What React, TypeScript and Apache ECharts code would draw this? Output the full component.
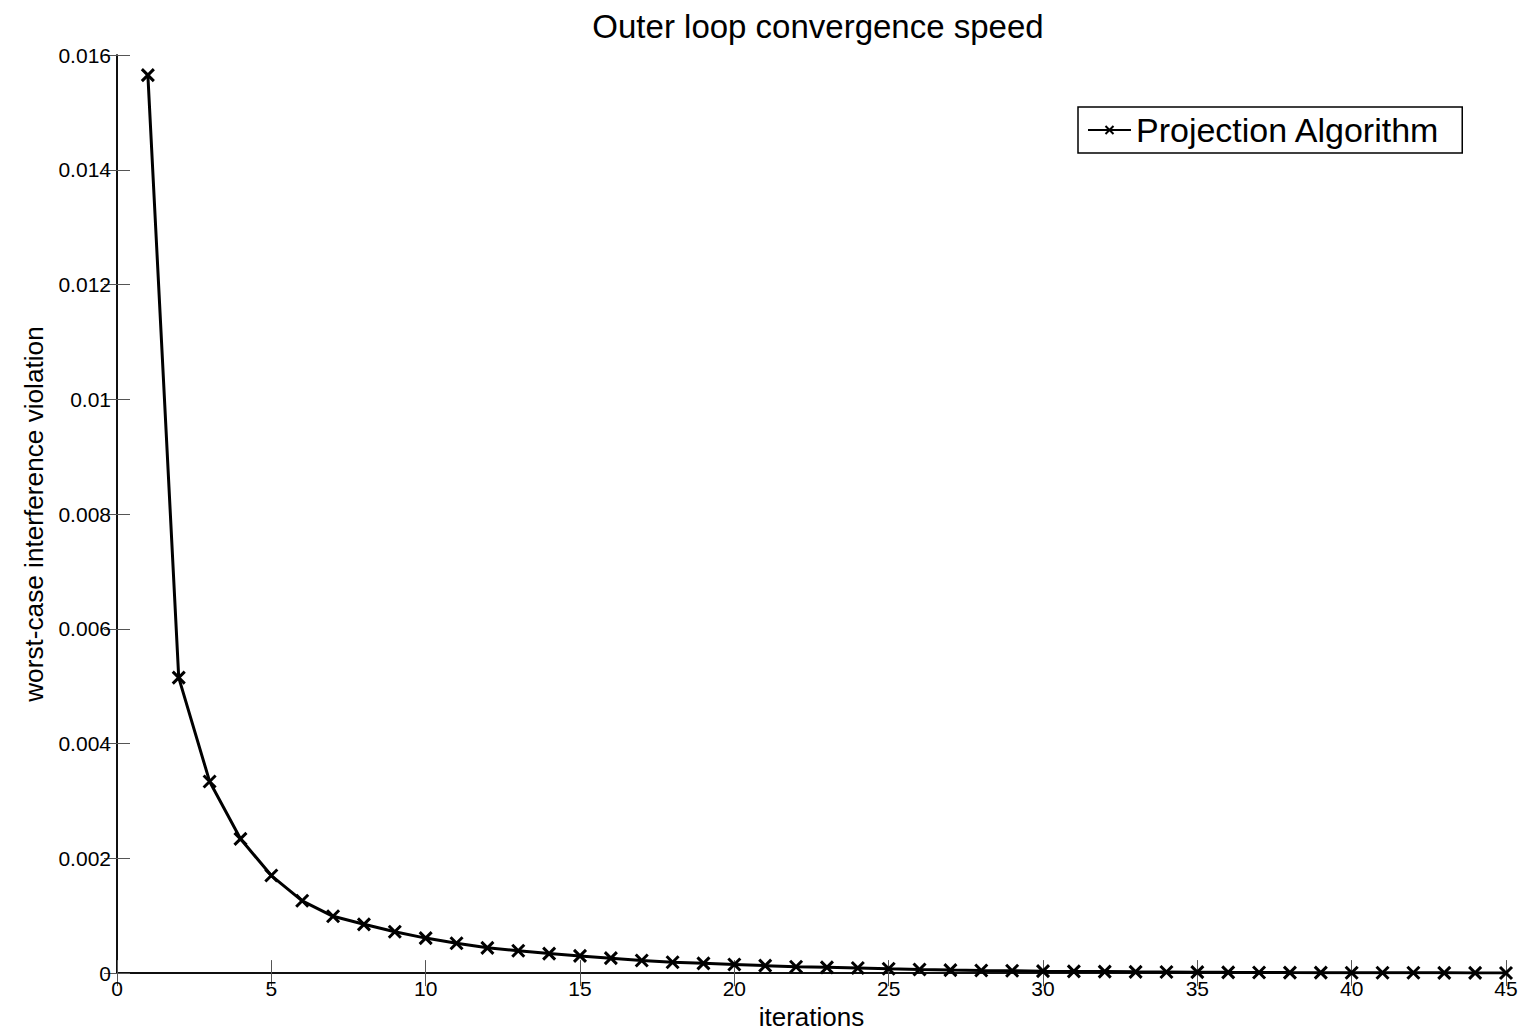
import React, { useEffect, useRef } from "react";
import * as echarts from "echarts";

const iterations: number[] = Array.from({ length: 45 }, (_, i) => i + 1);
const violation: number[] = [
  0.01565, 0.00515, 0.00334, 0.00234, 0.0017, 0.00126, 0.00099, 0.00085, 0.00072, 0.00061,
  0.00052, 0.00044, 0.00039, 0.00034, 0.0003, 0.00026, 0.00022, 0.00019, 0.00017, 0.00015,
  0.00013, 0.00011, 0.0001, 0.00009, 0.000075, 0.000062, 0.000052, 0.000045, 0.00004, 0.000034,
  0.00003, 0.000026, 0.000022, 0.000019, 0.000016, 0.000013, 0.000011, 0.000009, 0.000008, 0.000007,
  0.000006, 0.000005, 0.000004, 0.000003, 0.000002,
];
const xTicks = { min: 0, max: 45, interval: 5 };
const yTicks = { min: 0, max: 0.016, interval: 0.002 };

const FONT = "'Liberation Sans', Arial, Helvetica, sans-serif";
const crossSymbol = "path://M0,0L10,10M10,0L0,10";

export default function App() {
  const ref = useRef<HTMLDivElement>(null);
  useEffect(() => {
    if (!ref.current) return;
    const chart = echarts.init(ref.current, undefined, { renderer: "svg" });
    const axisLine = { show: true, lineStyle: { color: "#000", width: 1.5 } };
    const tick = { show: true, inside: true, length: 13, lineStyle: { color: "#555", width: 1 } };
    chart.setOption({
      animation: false,
      backgroundColor: "#fff",
      textStyle: { fontFamily: FONT },
      title: {
        text: "Outer loop convergence speed",
        left: 813,
        top: 5,
        textAlign: "center",
        textStyle: { fontFamily: FONT, fontSize: 33, fontWeight: "normal", color: "#000" },
      },
      legend: {
        left: 1078,
        top: 107,
        padding: [6, 22, 6, 9],
        itemWidth: 43,
        itemHeight: 10,
        backgroundColor: "#fff",
        borderColor: "#000",
        borderWidth: 1.5,
        borderRadius: 0,
        textStyle: { fontFamily: FONT, fontSize: 34, color: "#000", padding: [0, 0, 0, 0] },
        data: ["Projection Algorithm"],
      },
      grid: { left: 117, right: 15, top: 55, bottom: 57, containLabel: false },
      xAxis: [
        {
          type: "value",
          position: "bottom",
          ...xTicks,
          name: "iterations",
          nameLocation: "middle",
          nameGap: 28,
          nameTextStyle: { fontFamily: FONT, fontSize: 26, color: "#000" },
          axisLine,
          axisTick: tick,
          axisLabel: { fontFamily: FONT, fontSize: 21, color: "#000", margin: 5 },
          splitLine: { show: false },
        },
        {
          type: "value",
          position: "top",
          ...xTicks,
          axisLine,
          axisTick: tick,
          axisLabel: { show: false },
          splitLine: { show: false },
        },
      ],
      yAxis: [
        {
          type: "value",
          position: "left",
          ...yTicks,
          name: "worst-case interference violation",
          nameLocation: "middle",
          nameGap: 70,
          nameTextStyle: { fontFamily: FONT, fontSize: 26.2, color: "#000" },
          axisLine,
          axisTick: tick,
          axisLabel: { fontFamily: FONT, fontSize: 21, color: "#000", margin: 6 },
          splitLine: { show: false },
        },
        {
          type: "value",
          position: "right",
          ...yTicks,
          axisLine,
          axisTick: tick,
          axisLabel: { show: false },
          splitLine: { show: false },
        },
      ],
      series: [
        {
          name: "Projection Algorithm",
          type: "line",
          xAxisIndex: 0,
          yAxisIndex: 0,
          data: iterations.map((x, i) => [x, violation[i]]),
          symbol: crossSymbol,
          symbolSize: 12,
          showAllSymbol: true,
          lineStyle: { color: "#000", width: 3 },
          itemStyle: { color: "transparent", borderColor: "#000", borderWidth: 3 },
        },
      ],
    });
    return () => chart.dispose();
  }, []);
  return <div ref={ref} style={{ width: 1521, height: 1035, position: "absolute", left: 0, top: 0 }} />;
}
